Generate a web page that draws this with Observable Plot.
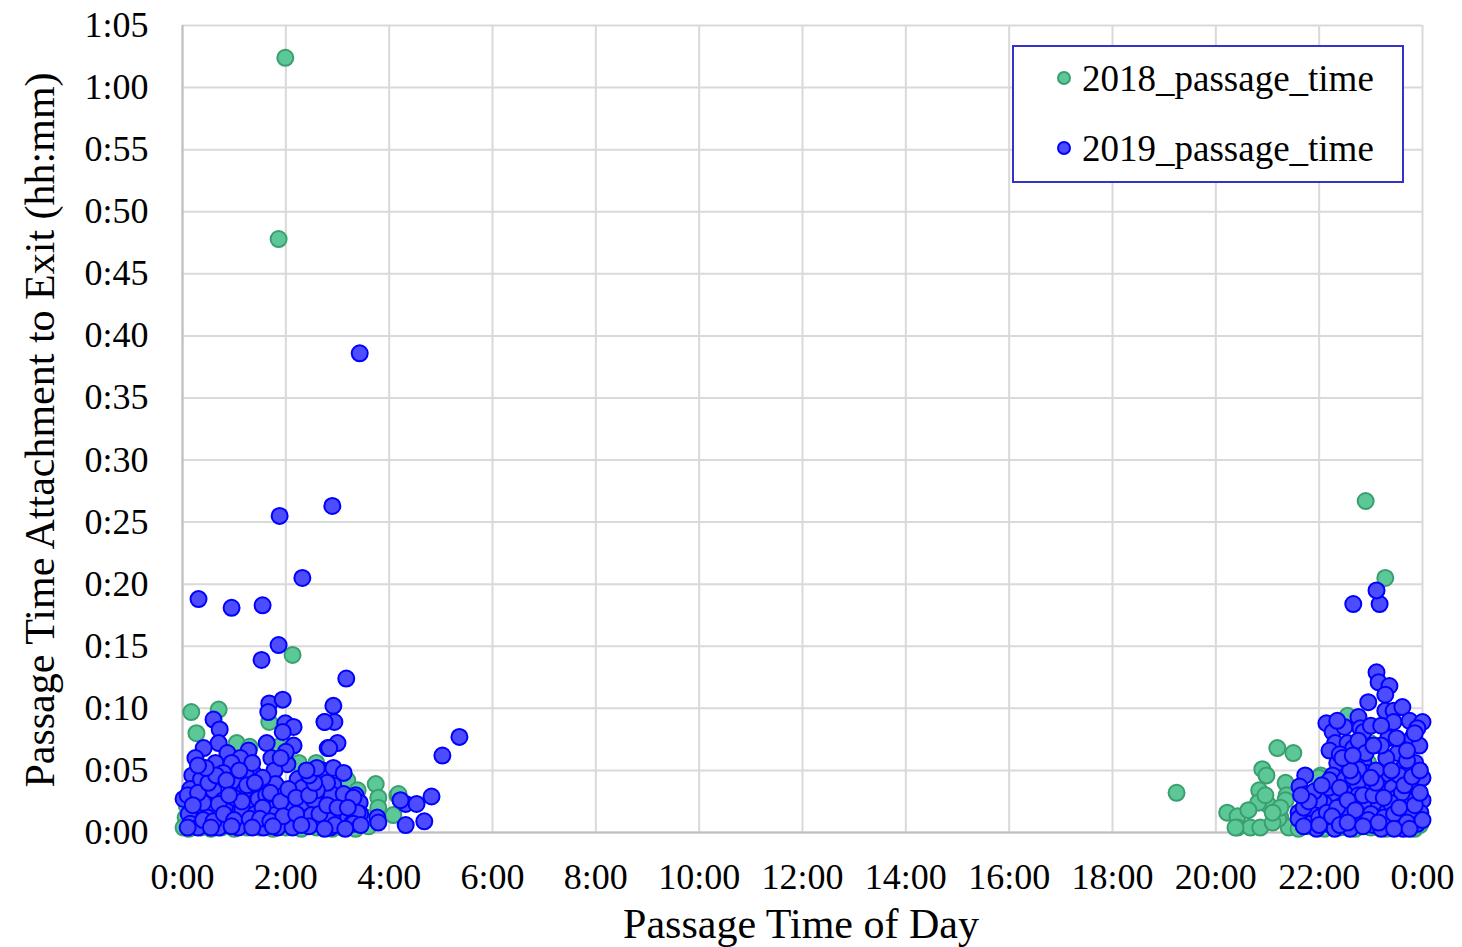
<!DOCTYPE html>
<html>
<head>
<meta charset="utf-8">
<script src="https://cdn.jsdelivr.net/npm/d3@7"></script>
<script src="https://cdn.jsdelivr.net/npm/@observablehq/plot@0.6"></script>
<style>
  html, body { margin: 0; padding: 0; background: #fff; }
  #wrap { position: relative; width: 1462px; height: 947px; font-family: 'Liberation Serif', 'Times New Roman', serif; }
  #legend { position: absolute; left: 1012px; top: 45px; width: 388px; height: 134px; border: 2px solid #3333cc; background: #fff; }
  .lg { position: absolute; left: 68px; font-size: 37px; line-height: 1; color: #000; white-space: nowrap; }
  .lg span.d { position: absolute; left: -25px; top: 11px; width: 10px; height: 10px; border-radius: 50%; }
  #xtitle { position: absolute; left: 0; width: 1602px; top: 903px; text-align: center; font-size: 42px; line-height: 1; }
  #ytitle { position: absolute; left: 40px; top: 430px; font-size: 42px; line-height: 1; white-space: nowrap; transform: translate(-50%, -50%) rotate(-90deg); }
</style>
</head>
<body>
<div id="wrap"></div>
<script>
// Time of day (hours) on x, passage time attachment to exit (minutes) on y
const xTicks = [0, 2, 4, 6, 8, 10, 12, 14, 16, 18, 20, 22, 24];
const yTicks = [0, 5, 10, 15, 20, 25, 30, 35, 40, 45, 50, 55, 60, 65];
const seriesNames = ["2018_passage_time", "2019_passage_time"];

const pts2018 = [
  [1.99,62.4],[1.86,47.8],[2.13,14.3],[0.17,9.7],[0.27,8.0],[0.70,9.9],[1.05,7.2],[1.68,8.9],[1.30,6.9],[1.86,6.9],
  [2.25,5.6],[2.59,5.6],[3.74,3.9],[3.79,2.8],[3.79,2.0],[4.16,3.0],[4.08,1.4],[3.68,0.8],[3.19,4.2],[3.39,3.4],
  [3.29,2.4],[4.18,3.1],[0.06,1.2],[0.02,0.4],[0.12,0.3],[0.35,0.4],[0.55,0.3],[0.75,0.4],[1.00,0.3],[1.25,0.4],
  [1.50,0.4],[1.75,0.3],[2.00,0.4],[2.30,0.3],[2.60,0.4],[2.90,0.3],[3.10,0.4],[3.35,0.3],[3.60,0.5],[0.30,2.0],
  [1.10,1.5],[1.90,2.0],[2.70,1.8],[3.05,2.6],[0.08,2.2],[3.55,1.2],
  [19.24,3.2],[22.90,26.7],[23.28,20.5],[22.55,9.4],[21.19,6.8],[21.50,6.4],[22.99,7.2],[20.90,5.1],[20.98,4.6],[20.84,3.4],
  [21.35,4.0],[21.37,3.0],[21.02,2.2],[20.82,2.4],[20.22,1.6],[20.42,1.3],[20.63,1.8],[20.42,0.4],[20.67,0.4],[20.86,0.4],
  [21.25,1.2],[21.41,0.4],[22.03,4.6],[22.95,5.6],[21.99,4.4],[23.90,3.5],[21.21,1.1],[21.35,2.6],[21.60,0.3],[21.80,0.5],
  [22.10,0.3],[22.40,0.4],[22.70,0.3],[23.00,0.4],[23.30,0.3],[23.60,0.4],[23.85,0.3],[20.38,0.4],[21.25,2.0],[21.10,0.8],
  [22.60,2.2],[20.96,3.0],[21.10,1.6],[22.00,1.0],[22.30,0.9],[22.90,0.9],[23.50,1.0],[23.95,0.6]
];

const pts2019 = [
  [3.43,38.6],[2.90,26.3],[1.88,25.5],[2.32,20.5],[0.31,18.8],[0.95,18.1],[1.55,18.3],[1.86,15.1],[1.53,13.9],[3.17,12.4],
  [5.03,6.2],[5.36,7.7],[1.68,10.4],[1.66,9.7],[1.94,10.7],[2.92,10.2],[2.75,8.9],[2.94,8.9],[1.99,8.8],[2.15,8.5],
  [1.94,8.1],[0.60,9.1],[0.72,8.3],[0.70,7.2],[1.63,7.2],[2.15,7.0],[2.81,6.8],[3.00,7.2],[0.41,6.8],[0.25,6.0],
  [1.72,6.0],[2.03,5.5],[0.87,6.4],[1.28,6.6],[1.12,6.0],[0.64,5.6],[0.95,5.6],[0.19,4.6],[1.37,4.8],[1.78,5.0],
  [2.71,5.0],[2.92,5.2],[3.12,4.8],[2.23,4.3],[0.15,3.5],[0.41,3.6],[0.95,3.6],[1.47,3.7],[1.80,3.9],[2.34,3.5],
  [2.92,3.8],[2.88,3.1],[3.12,3.1],[3.35,3.0],[3.43,2.4],[3.44,1.5],[3.77,1.2],[4.32,2.3],[4.53,2.3],[4.82,2.9],
  [4.32,0.6],[4.68,0.9],[0.02,2.7],[0.25,2.7],[0.54,3.0],[0.60,3.4],[0.79,2.6],[1.08,3.1],[1.32,2.6],[1.47,2.7],
  [1.70,2.3],[2.38,2.4],[2.61,2.3],[2.11,1.9],[1.78,1.4],[0.93,2.2],[1.12,1.8],[0.35,1.8],[0.60,1.8],[1.16,1.8],
  [1.41,1.5],[2.03,1.9],[0.19,1.2],[0.12,1.5],[0.48,1.2],[0.48,0.7],[0.15,0.7],[0.87,0.6],[1.22,0.7],[1.45,0.7],
  [1.65,0.6],[1.84,0.4],[2.13,0.8],[2.38,0.8],[2.61,0.8],[2.71,0.7],[3.12,1.4],[3.29,0.8],[2.86,0.4],[2.13,0.4],
  [1.57,0.4],[0.70,0.4],[0.79,4.8],[1.22,4.8],[1.55,4.4],[1.08,0.4],[0.30,0.4],[0.36,4.3],[1.03,4.2],[1.62,3.0],
  [2.54,2.6],[2.32,3.6],[2.28,1.2],[2.71,0.6],[2.90,1.2],[3.31,2.8],[3.39,1.6],[3.31,0.7],[4.22,2.6],[3.79,0.8],
  [2.75,8.9],[2.84,6.8],[2.80,4.0],[2.60,3.4],[1.20,3.4],[0.70,2.3],[1.96,3.0],[2.50,1.4],[0.40,2.4],[2.00,6.5],
  [0.10,3.0],[0.30,3.2],[0.50,4.0],[0.65,4.6],[0.85,4.2],[1.00,2.8],[1.15,2.5],[1.25,3.8],[1.40,4.0],[1.55,2.0],
  [1.70,3.2],[1.90,2.5],[2.05,3.5],[2.20,2.8],[2.45,3.0],[2.55,4.0],[2.65,1.5],[2.80,2.2],[3.00,2.0],[3.20,2.0],
  [0.20,2.2],[0.40,1.0],[0.60,0.9],[0.80,1.5],[1.00,1.0],[1.30,1.1],[1.50,1.1],[1.70,0.9],[1.95,1.3],[2.20,1.5],
  [2.45,0.5],[2.95,0.6],[3.45,0.6],[0.10,0.4],[0.55,0.4],[0.95,0.5],[1.35,0.4],[1.75,0.5],[2.30,0.6],[2.75,0.3],
  [3.15,0.3],[0.90,3.0],[1.35,5.6],[1.10,5.0],[0.45,5.2],[2.45,4.6],[2.60,5.2],[0.30,5.4],[1.90,6.0],[2.40,5.0],
  [23.11,12.9],[23.15,12.1],[23.36,11.8],[23.28,11.1],[22.95,10.5],[23.28,9.8],[23.44,9.8],[23.61,10.1],[23.44,8.9],[23.75,9.0],
  [24.00,8.9],[23.90,8.4],[22.14,8.8],[22.26,8.1],[22.49,8.5],[22.76,9.3],[22.80,8.4],[22.86,8.1],[22.31,7.2],[22.55,7.2],
  [22.66,6.8],[22.76,7.4],[22.20,6.6],[23.34,7.6],[23.61,7.0],[23.80,7.6],[23.94,7.0],[23.52,6.4],[22.35,5.6],[22.57,5.6],
  [22.86,5.6],[22.93,4.8],[22.76,5.1],[22.26,4.6],[21.73,4.6],[21.62,3.7],[21.77,3.1],[23.44,4.3],[23.63,5.2],[23.86,5.6],
  [23.86,3.8],[24.00,4.4],[23.22,4.4],[23.20,3.6],[23.42,3.6],[22.99,3.6],[22.74,3.9],[22.51,3.1],[22.28,3.1],[22.18,3.6],
  [22.76,3.0],[22.93,2.3],[23.13,2.3],[23.50,2.8],[23.75,2.5],[24.00,2.6],[23.96,1.6],[21.60,1.6],[21.89,1.6],[22.10,2.3],
  [22.45,2.2],[22.85,2.2],[21.60,1.1],[21.83,0.7],[22.16,0.7],[22.47,1.2],[22.74,0.7],[23.05,0.6],[23.34,0.6],[23.63,1.1],
  [23.63,0.3],[23.90,0.7],[23.00,1.5],[22.60,1.5],[23.30,1.6],[23.80,1.8],[22.00,2.6],[21.95,0.3],[22.30,0.3],[22.60,0.3],
  [23.20,0.3],[23.50,0.5],[21.70,2.0],[22.66,18.4],[23.17,18.4],[23.11,19.5],[22.20,4.2],[23.10,5.0],[23.30,6.0],[23.60,3.2],
  [22.50,4.3],[22.90,6.4],[23.70,5.8],[21.90,3.3],[22.00,1.2],[23.38,2.4],[23.55,4.6],[23.20,7.0],[22.40,6.3],[23.00,8.6],
  [22.05,3.8],[22.15,1.6],[22.35,2.0],[22.40,3.6],[22.55,2.6],[22.65,4.5],[22.70,1.8],[22.85,3.0],[22.95,1.0],[23.05,3.0],
  [23.10,4.0],[23.25,2.8],[23.25,1.2],[23.40,5.0],[23.45,1.5],[23.55,2.0],[23.65,3.8],[23.70,0.8],[23.80,4.5],[23.85,2.2],
  [23.95,5.0],[23.95,3.2],[21.70,0.5],[21.80,2.5],[21.65,3.0],[22.00,0.6],[22.25,1.3],[22.40,0.6],[22.55,0.8],[22.85,0.5],
  [23.15,0.8],[23.45,0.3],[23.75,0.3],[24.00,1.0],[23.00,4.4],[22.60,5.0],[22.45,6.0],[22.65,6.2],[23.05,7.0],[23.50,7.6],
  [23.70,6.6],[23.85,8.0],[23.20,8.6],[22.35,9.0]
];

const fmtX = h => `${h % 24}:00`;
const fmtY = m => `${Math.floor(m / 60)}:${String(m % 60).padStart(2, "0")}`;

const chart = Plot.plot({
  width: 1462,
  height: 947,
  marginLeft: 182,
  marginRight: 40,
  marginTop: 25,
  marginBottom: 115,
  style: { fontFamily: "'Liberation Serif', 'Times New Roman', serif", fontSize: "36px", color: "#000", background: "#fff", overflow: "visible" },
  x: { domain: [0, 24] },
  y: { domain: [0, 65] },
  marks: [
    Plot.gridX(xTicks, { stroke: "#d9d9d9", strokeOpacity: 1, strokeWidth: 2 }),
    Plot.gridY(yTicks, { stroke: "#d9d9d9", strokeOpacity: 1, strokeWidth: 2 }),
    Plot.ruleX([0], { stroke: "#bfbfbf", strokeWidth: 2 }),
    Plot.ruleY([0], { stroke: "#bfbfbf", strokeWidth: 2 }),
    Plot.axisX(xTicks, { tickSize: 0, tickPadding: 31, tickFormat: fmtX, label: null, fontSize: 36 }),
    Plot.axisY(yTicks, { tickSize: 0, tickPadding: 34, tickFormat: fmtY, label: null, fontSize: 36 }),
    Plot.dot(pts2018, { x: d => d[0], y: d => d[1], r: 8, fill: "#5cc897", stroke: "#3a9f6e", strokeWidth: 2 }),
    Plot.dot(pts2019, { x: d => d[0], y: d => d[1], r: 8, fill: "#4d4dff", stroke: "#0000ff", strokeWidth: 2 })
  ]
});

const wrap = document.getElementById("wrap");
wrap.appendChild(chart);

const xt = document.createElement("div");
xt.id = "xtitle"; xt.textContent = "Passage Time of Day";
wrap.appendChild(xt);
const yt = document.createElement("div");
yt.id = "ytitle"; yt.textContent = "Passage Time Attachment to Exit (hh:mm)";
wrap.appendChild(yt);

const lg = document.createElement("div");
lg.id = "legend";
const cols = [["#5cc897", "#3a9f6e"], ["#4d4dff", "#0000ff"]];
seriesNames.forEach((n, i) => {
  const e = document.createElement("div");
  e.className = "lg";
  e.style.top = (13 + i * 70) + "px";
  const d = document.createElement("span");
  d.className = "d";
  d.style.background = cols[i][0];
  d.style.border = "2px solid " + cols[i][1];
  e.appendChild(d);
  e.appendChild(document.createTextNode(n));
  lg.appendChild(e);
});
wrap.appendChild(lg);
</script>
</body>
</html>
